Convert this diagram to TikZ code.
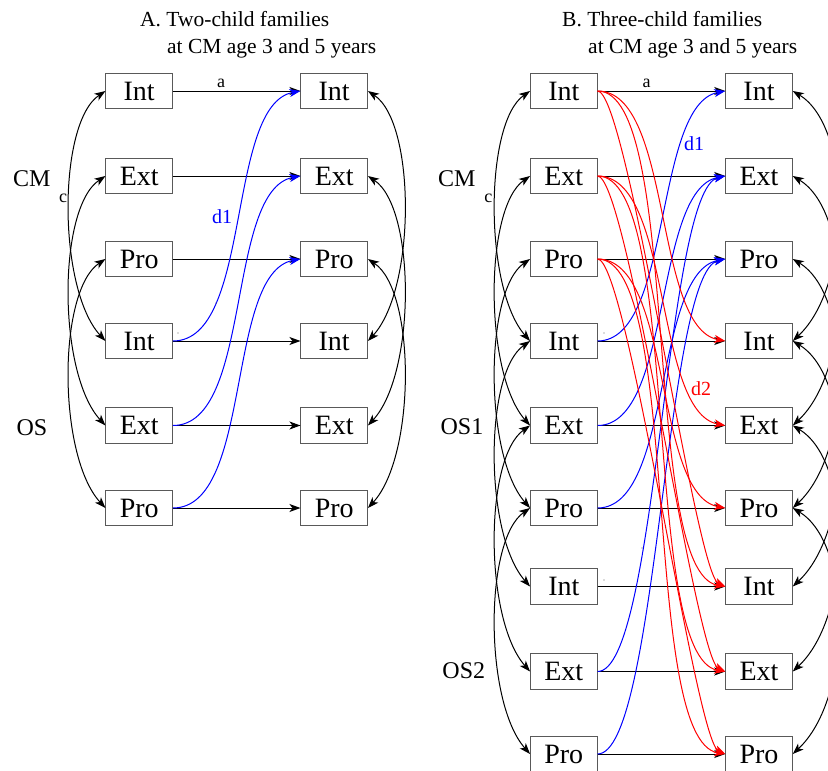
\documentclass[tikz,border=0pt]{standalone}
\usepackage{fontspec}
\setmainfont{Liberation Serif}
\newfontfamily\tnr{Liberation Serif}
\usetikzlibrary{arrows.meta}
\begin{document}
\begin{tikzpicture}[x=1pt,y=-1pt,
  box/.style={draw=black!65, line width=1pt, minimum width=66.5pt, minimum height=35.5pt, inner sep=0pt, font=\tnr\fontsize{28}{30}\selectfont},
  lab/.style={inner sep=0pt, font=\tnr\fontsize{24}{26}\selectfont},
  small/.style={inner sep=0pt, font=\tnr\fontsize{18}{20}\selectfont},
  dlab/.style={inner sep=0pt, font=\tnr\fontsize{20}{22}\selectfont},
  ttl/.style={inner sep=0pt, anchor=base west, font=\tnr\fontsize{21.5}{24}\selectfont},
  arr/.style={-{Stealth[length=11pt,width=8pt,inset=3pt]}, line width=1pt},
  darr/.style={{Stealth[length=11pt,width=8pt,inset=3pt]}-{Stealth[length=11pt,width=8pt,inset=3pt]}, line width=1pt},
  dot/.style={black!60}
]
\useasboundingbox (0,0) rectangle (828,771);

% titles
\node[ttl] (tA1) at (140,26) {A. Two-child families};
\node[ttl] (tA2) at (167,53.3) {at CM age 3 and 5 years};
\node[ttl] (tB1) at (562,26) {B. Three-child families};
\node[ttl] (tB2) at (588,53.3) {at CM age 3 and 5 years};

% panel A nodes
\node[box] (AL1) at (139.2,91) {Int};
\node[box] (AL2) at (139.2,176) {Ext};
\node[box] (AL3) at (139.2,259) {Pro};
\node[box] (AL4) at (139.2,341) {Int};
\node[box] (AL5) at (139.2,425.5) {Ext};
\node[box] (AL6) at (139.2,508) {Pro};
\node[box] (AR1) at (334.2,91) {Int};
\node[box] (AR2) at (334.2,176) {Ext};
\node[box] (AR3) at (334.2,259) {Pro};
\node[box] (AR4) at (334.2,341) {Int};
\node[box] (AR5) at (334.2,425.5) {Ext};
\node[box] (AR6) at (334.2,508) {Pro};

% panel B nodes
\node[box] (BL1) at (563.8,91) {Int};
\node[box] (BL2) at (563.8,176) {Ext};
\node[box] (BL3) at (563.8,259) {Pro};
\node[box] (BL4) at (563.8,341) {Int};
\node[box] (BL5) at (563.8,425.5) {Ext};
\node[box] (BL6) at (563.8,508) {Pro};
\node[box] (BL7) at (563.8,586.5) {Int};
\node[box] (BL8) at (563.8,671.5) {Ext};
\node[box] (BL9) at (563.8,754) {Pro};
\node[box] (BR1) at (759,91) {Int};
\node[box] (BR2) at (759,176) {Ext};
\node[box] (BR3) at (759,259) {Pro};
\node[box] (BR4) at (759,341) {Int};
\node[box] (BR5) at (759,425.5) {Ext};
\node[box] (BR6) at (759,508) {Pro};
\node[box] (BR7) at (759,586.5) {Int};
\node[box] (BR8) at (759,671.5) {Ext};
\node[box] (BR9) at (759,754) {Pro};

% group labels
\node[lab] (lCMA) at (31.7,178.5) {CM};
\node[lab] (lOSA) at (32,427.5) {OS};
\node[lab] (lCMB) at (456.7,178.5) {CM};
\node[lab] (lOS1) at (462,427) {OS1};
\node[lab] (lOS2) at (463.8,671) {OS2};

% horizontal a paths
\foreach \i in {1,...,6} \draw[arr] (AL\i.east) -- (AR\i.west);
\foreach \i in {1,...,9} \draw[arr] (BL\i.east) -- (BR\i.west);
\node[small] (aA) at (221,83.5) {a};
\node[small] (aB) at (646.5,83.5) {a};

% side covariance loops
\foreach \i/\j in {1/4,2/5,3/6} {
  \draw[darr] (AL\i.west) .. controls +(-48,32) and +(-48,-52) .. (AL\j.west);
  \draw[darr] (AR\i.east) .. controls +(48,32) and +(48,-52) .. (AR\j.east);
}
\foreach \i/\j in {1/4,2/5,3/6,4/7,5/8,6/9} {
  \draw[darr] (BL\i.west) .. controls +(-46,32) and +(-46,-52) .. (BL\j.west);
  \draw[darr] (BR\i.east) .. controls +(60,36) and +(60,-56) .. (BR\j.east);
}
\node[small] (cA) at (63,198) {c};
\node[small] (cB) at (488.3,198) {c};

% blue d1 paths panel A
\foreach \i/\j in {4/1,5/2,6/3}
  \draw[arr, blue] (AL\i.east) .. controls +(80,0) and +(-75,14) .. (AR\j.west);
\node[dlab, blue] (d1A) at (222,216.5) {d1};

% blue d1 paths panel B
\foreach \i/\j in {4/1,5/2,6/3}
  \draw[arr, blue] (BL\i.east) .. controls +(75,0) and +(-72,14) .. (BR\j.west);
\foreach \i/\j in {8/2,9/3}
  \draw[arr, blue] (BL\i.east) .. controls +(60,0) and +(-60,14) .. (BR\j.west);
\node[dlab, blue] (d1B) at (694,143.5) {d1};

% red d2 paths panel B
\foreach \i/\j/\k in {1/4/7,2/5/8,3/6/9} {
  \draw[arr, red] (BL\i.east) .. controls +(75,0) and +(-72,-14) .. (BR\j.west);
  \draw[arr, red] (BL\i.east) .. controls +(30,0) and +(-30,-14) .. (BR\k.west);
  \draw[arr, red] (BL\i.east) .. controls +(85,0) and +(-85,-14) .. (BR\k.west);
}
\node[dlab, red] (d2B) at (701,389) {d2};

% tiny specks
\fill[dot] (216,303) circle (0.6);
\fill[dot] (178,333) circle (0.6);
\fill[dot] (604,333) circle (0.6);
\fill[dot] (642,303) circle (0.6);
\fill[dot] (604,580) circle (0.6);
\fill[dot] (642,548) circle (0.6);
\end{tikzpicture}
\end{document}
